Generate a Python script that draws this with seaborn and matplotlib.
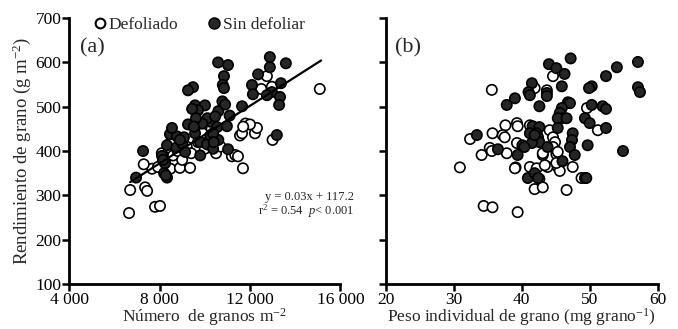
import matplotlib
matplotlib.use("Agg")
import matplotlib.pyplot as plt
import seaborn as sns
import pandas as pd
from matplotlib.lines import Line2D

# Panel (a): grain number (granos m-2) vs yield (g m-2)
a_sin_x = [6960, 7270, 8110, 8240, 8150, 8330, 8200, 8280, 8330, 8750, 9000, 9130, 8460, 8770,
           8550, 9080, 9570, 9790, 10100, 10250, 10600, 9480, 9260, 9570, 10010, 9700, 9440, 10250,
           10120, 9890, 9260, 9610, 9520, 10600, 10780, 10900, 11100, 10460, 10550, 10370, 10980,
           10370, 11030, 11650, 10590, 11030, 10850, 10800, 10850, 12880, 12880, 13590, 12360,
           12090, 12130, 12970, 12750, 13370, 13330, 13290, 13190, 9800, 10400, 8900]
a_sin_y = [340, 400, 389, 372, 380, 340, 350, 345, 413, 408, 417, 398, 438, 433,
           452, 431, 440, 420, 415, 435, 425, 544, 537, 503, 503, 492, 495, 466,
           474, 462, 460, 474, 455, 490, 512, 505, 480, 478, 454, 440, 456,
           405, 404, 501, 600, 594, 569, 549, 542, 612, 589, 598, 573,
           549, 528, 533, 526, 553, 522, 504, 436, 390, 420, 425]
a_def_x = [6650, 6700, 7360, 7450, 7800, 8020, 7670, 7930, 8350, 8480, 8900, 9350, 11690, 8300,
           8600, 8800, 9200, 9400, 9700, 10100, 10500, 10700, 11200, 11350, 11470, 11560, 11650,
           12220, 12310, 11800, 12000, 11700, 13000, 12750, 12500, 12970, 15090, 9600, 10000,
           8500, 9000, 10300, 7300, 8100, 9900]
a_def_y = [260, 312, 318, 310, 274, 276, 360, 364, 362, 360, 362, 362, 361, 385,
           390, 400, 410, 395, 420, 430, 395, 410, 388, 391, 388, 435, 440,
           440, 452, 462, 460, 455, 425, 569, 540, 545, 540, 500, 405,
           420, 380, 450, 370, 395, 440]

# Panel (b): individual grain weight (mg grano-1) vs yield
b_sin_x = [47.2, 44.0, 45.1, 46.3, 57.1, 54.0, 52.4, 50.3, 49.9, 57.1, 57.4, 41.5, 41.0, 41.2,
           43.7, 43.7, 45.9, 39.0, 37.8, 42.6, 46.8, 47.1, 45.9, 45.6, 46.0, 45.3, 46.6, 50.3,
           51.9, 52.4, 49.3, 50.0, 52.4, 41.6, 42.6, 45.3, 47.5, 47.4, 47.1, 33.4, 42.2, 42.4,
           42.6, 41.5, 40.1, 40.4, 49.7, 54.9, 36.5, 39.4, 43.8, 47.8, 46.0, 40.9, 41.9, 42.4,
           49.3, 49.5, 41.2, 41.9]
b_sin_y = [609, 596, 587, 574, 601, 589, 569, 546, 542, 544, 533, 553, 533, 526,
           531, 524, 546, 519, 504, 501, 510, 508, 497, 486, 474, 474, 474, 504,
           501, 495, 474, 463, 452, 456, 454, 452, 440, 425, 409, 436, 440, 431,
           420, 418, 413, 409, 413, 400, 404, 391, 409, 391, 377, 339, 350, 339,
           339, 339, 440, 436]
b_def_x = [35.6, 44.6, 41.9, 43.7, 49.6, 51.2, 37.6, 39.3, 39.4, 35.7, 37.2, 37.5, 32.4, 35.3,
           37.8, 39.3, 34.1, 35.6, 41.2, 44.1, 44.6, 44.9, 43.1, 45.1, 30.9, 39.1, 39.0, 41.2,
           42.2, 43.8, 45.3, 45.6, 47.5, 48.8, 42.6, 41.9, 43.1, 46.6, 34.4, 35.7, 39.4, 43.4,
           45.1, 43.1, 44.6, 45.3]
b_def_y = [538, 569, 542, 537, 497, 447, 458, 463, 456, 440, 436, 431, 427, 407,
           395, 418, 391, 400, 458, 447, 431, 420, 391, 393, 363, 363, 361, 364,
           361, 364, 364, 355, 364, 339, 337, 314, 318, 312, 276, 273, 262, 368,
           373, 395, 409, 398]

# regression line shown in panel (a)
fit_x = [6700, 15150]
slope, intercept = 0.0325, 112.0

sns.set_style("ticks")
plt.rcParams["font.family"] = ["Liberation Serif", "DejaVu Serif"]
plt.rcParams["mathtext.fontset"] = "custom"
plt.rcParams["mathtext.rm"] = "Liberation Serif"
plt.rcParams["mathtext.it"] = "Liberation Serif:italic"

def make_df(sx, sy, dx, dy):
    d1 = pd.DataFrame({"x": dx, "y": dy, "trat": "Defoliado"})
    d2 = pd.DataFrame({"x": sx, "y": sy, "trat": "Sin defoliar"})
    return pd.concat([d1, d2], ignore_index=True)

df_a = make_df(a_sin_x, a_sin_y, a_def_x, a_def_y)
df_b = make_df(b_sin_x, b_sin_y, b_def_x, b_def_y)

fig = plt.figure(figsize=(6.78, 3.29), dpi=100)
ax1 = fig.add_axes([0.102, 0.137, 0.400, 0.808])
ax2 = fig.add_axes([0.569, 0.137, 0.401, 0.808])

pal = {"Defoliado": "white", "Sin defoliar": "#262626"}

for ax, df in [(ax1, df_a), (ax2, df_b)]:
    sns.scatterplot(data=df, x="x", y="y", hue="trat", palette=pal, ax=ax,
                    s=55, edgecolor="black", linewidth=1.2, legend=False, zorder=3)
    ax.set_ylim(100, 700)
    ax.set_yticks([100, 200, 300, 400, 500, 600, 700])
    for side in ["top", "right"]:
        ax.spines[side].set_visible(False)
    for side in ["left", "bottom"]:
        ax.spines[side].set_linewidth(2)
        ax.spines[side].set_color("black")
    ax.tick_params(direction="out", length=5, width=1.8, labelsize=12.5, pad=0.5, colors="black")

fit_y = [slope * v + intercept for v in fit_x]
ax1.plot(fit_x, fit_y, color="black", lw=1.6, zorder=4)

ax1.set_xlim(4000, 16000)
ax1.set_xticks([4000, 8000, 12000, 16000])
ax1.set_xticklabels(["4 000", "8 000", "12 000", "16 000"])
ax1.set_xlabel("Número  de granos m$^{-2}$", fontsize=12.5, labelpad=-1)
ax1.set_ylabel("Rendimiento de grano (g m$^{-2}$)", fontsize=13.5, labelpad=2)
ax1.text(0.04, 0.87, "(a)", transform=ax1.transAxes, fontsize=16)
ax1.text(1.05, 0.315, "y = 0.03x + 117.2", transform=ax1.transAxes, fontsize=9,
         ha="right", va="baseline")
ax1.text(1.05, 0.26, "r$^2$ = 0.54  $\\it{p}$< 0.001", transform=ax1.transAxes, fontsize=9,
         ha="right", va="baseline")

ax2.set_xlim(20, 60)
ax2.set_xticks([20, 30, 40, 50, 60])
ax2.set_yticklabels([])
ax2.set_xlabel("Peso individual de grano (mg grano$^{-1}$)", fontsize=12.5, labelpad=-1)
ax2.set_ylabel("")
ax2.text(0.035, 0.87, "(b)", transform=ax2.transAxes, fontsize=16)

handles = [Line2D([], [], ls="none", marker="o", ms=7, mfc="white", mec="black", mew=1.5),
           Line2D([], [], ls="none", marker="o", ms=8, mfc="#262626", mec="black", mew=1)]
ax1.legend(handles, ["Defoliado", "Sin defoliar"], loc="center left", bbox_to_anchor=(0.08, 0.975),
           ncol=2, frameon=False, fontsize=12.5, handletextpad=0.0, columnspacing=1.6,
           handlelength=1.0, borderaxespad=0, borderpad=0)

fig.savefig("out.png", dpi=100)
